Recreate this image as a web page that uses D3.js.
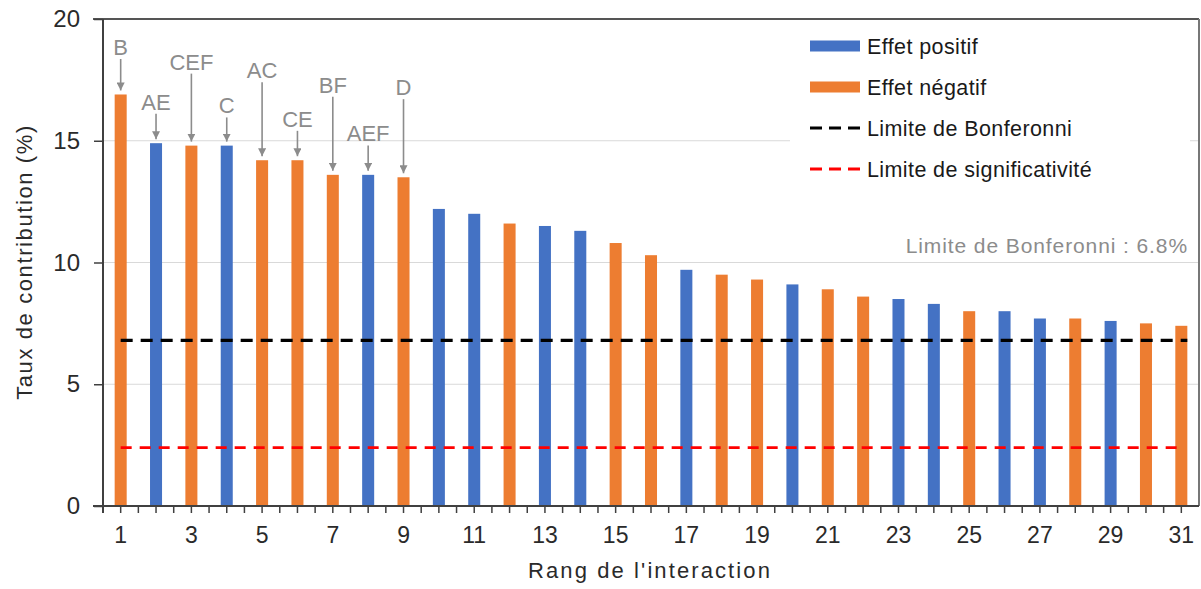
<!DOCTYPE html>
<html><head><meta charset="utf-8">
<script src="https://cdn.jsdelivr.net/npm/d3@7/dist/d3.min.js"></script>
<style>
body{margin:0;background:#fff;}
text{font-family:"Liberation Sans",Arial,sans-serif;}
</style></head>
<body>
<svg id="chart" width="1201" height="589"></svg>
<script>
// ---- data ----
const ranks = d3.range(1, 32);
const values = [16.9,14.9,14.8,14.8,14.2,14.2,13.6,13.6,13.5,12.2,12.0,11.6,11.5,11.3,10.8,10.3,9.7,9.5,9.3,9.1,8.9,8.6,8.5,8.3,8.0,8.0,7.7,7.7,7.6,7.5,7.4];
const effects = ["N","P","N","P","N","N","N","P","N","P","P","N","P","P","N","N","P","N","N","P","N","N","P","P","N","P","P","N","P","N","N"];
const annotLabels = ["B","AE","CEF","C","AC","CE","BF","AEF","D"];
const annotLabelValues = [18.85,16.6,18.25,16.45,17.9,15.9,17.3,15.3,17.2];
const bonferroni = 6.8;
const significance = 2.4;
const yTicks = [0,5,10,15,20];
const legendItems = [
  {label:"Effet positif", type:"bar", color:"#4472C4"},
  {label:"Effet négatif", type:"bar", color:"#ED7D31"},
  {label:"Limite de Bonferonni", type:"dash", color:"#000000"},
  {label:"Limite de significativité", type:"dash", color:"#FF0000"}
];
const colors = {P:"#4472C4", N:"#ED7D31"};

// ---- layout ----
const L = 103, R = 1199, T = 19, B = 506;
const svg = d3.select("#chart");
const x = d3.scaleBand().domain(ranks).range([L, R]).padding(0);
const y = d3.scaleLinear().domain([0, 20]).range([B, T]);
const bw = x.bandwidth() * 0.34;
const cx = d => x(d) + x.bandwidth() / 2;

// gridlines
svg.append("g").selectAll("line").data([5,10,15]).join("line")
  .attr("x1", L).attr("x2", R).attr("y1", d => y(d)).attr("y2", d => y(d))
  .attr("stroke", "#d9d9d9").attr("stroke-width", 1);

// bars
svg.append("g").selectAll("rect").data(ranks).join("rect")
  .attr("x", (d) => cx(d) - bw / 2)
  .attr("width", bw)
  .attr("y", (d, i) => y(values[i]))
  .attr("height", (d, i) => y(0) - y(values[i]))
  .attr("fill", (d, i) => colors[effects[i]]);

// reference lines
svg.append("line").attr("x1", cx(1)).attr("x2", cx(31) + 6)
  .attr("y1", y(bonferroni)).attr("y2", y(bonferroni))
  .attr("stroke", "#000").attr("stroke-width", 3.2).attr("stroke-dasharray", "12,8");
svg.append("line").attr("x1", cx(1)).attr("x2", cx(31))
  .attr("y1", y(significance)).attr("y2", y(significance))
  .attr("stroke", "#FF0000").attr("stroke-width", 2.8).attr("stroke-dasharray", "11,8");

// Bonferroni text
svg.append("text").attr("x", 1188).attr("y", y(10) - 10)
  .attr("text-anchor", "end").attr("font-size", 21).attr("letter-spacing", 0.9)
  .attr("fill", "#8c8c8c").text("Limite de Bonferonni : " + bonferroni + "%");

// legend background + items
svg.append("rect").attr("x", 790).attr("y", 22).attr("width", 400).attr("height", 172).attr("fill", "#fff");
const lg = svg.append("g").selectAll("g").data(legendItems).join("g")
  .attr("transform", (d, i) => `translate(810, ${46 + i * 41})`);
lg.filter(d => d.type === "bar").append("rect")
  .attr("x", 0).attr("y", -5.5).attr("width", 50).attr("height", 11).attr("fill", d => d.color);
lg.filter(d => d.type === "dash").append("line")
  .attr("x1", 0).attr("x2", 50).attr("y1", 0).attr("y2", 0)
  .attr("stroke", d => d.color).attr("stroke-width", 3).attr("stroke-dasharray", "12,7");
lg.append("text").attr("x", 57).attr("y", 8).attr("font-size", 21.5).attr("letter-spacing", 0.4)
  .attr("fill", "#1a1a1a").text(d => d.label);

// annotations
const arrowG = svg.append("g");
svg.append("defs").append("marker").attr("id", "ah")
  .attr("viewBox", "0 0 10 10").attr("refX", 10).attr("refY", 5)
  .attr("markerWidth", 8).attr("markerHeight", 8).attr("markerUnits", "userSpaceOnUse")
  .attr("orient", "auto")
  .append("path").attr("d", "M0,0 L10,5 L0,10 Z").attr("fill", "#8c8c8c");
annotLabels.forEach((lab, i) => {
  const r = ranks[i];
  const ty = y(annotLabelValues[i]);
  arrowG.append("text").attr("x", cx(r)).attr("y", ty + 8)
    .attr("text-anchor", "middle").attr("font-size", 22)
    .attr("fill", "#8c8c8c").text(lab);
  arrowG.append("line").attr("x1", cx(r)).attr("x2", cx(r))
    .attr("y1", ty + 12).attr("y2", y(values[i]) - 4)
    .attr("stroke", "#8c8c8c").attr("stroke-width", 1.6).attr("marker-end", "url(#ah)");
});

// frame (top & right)
svg.append("line").attr("x1", 93).attr("x2", R).attr("y1", T).attr("y2", T)
  .attr("stroke", "#555").attr("stroke-width", 2);
svg.append("line").attr("x1", R).attr("x2", R).attr("y1", T).attr("y2", B)
  .attr("stroke", "#777").attr("stroke-width", 2);

// y axis
const yAx = svg.append("g").attr("transform", `translate(${L},0)`)
  .call(d3.axisLeft(y).tickValues(yTicks).tickSize(9).tickPadding(14));
yAx.select(".domain").attr("stroke", "#404040").attr("stroke-width", 2)
  .attr("d", `M0,${T}V${B + 7}`);
yAx.selectAll(".tick line").attr("stroke", "#404040").attr("stroke-width", 1.5);
yAx.selectAll(".tick text").attr("font-size", 24).attr("fill", "#2a2a2a")
  .attr("font-family", "Liberation Sans, Arial, sans-serif");

// x axis
const xAx = svg.append("g").attr("transform", `translate(0,${B})`)
  .call(d3.axisBottom(x).tickSize(7).tickPadding(14).tickFormat(d => d % 2 === 1 ? d : ""));
xAx.select(".domain").attr("stroke", "#404040").attr("stroke-width", 2)
  .attr("d", `M${L - 10},0H${R}`);
xAx.selectAll(".tick line").attr("stroke", "#404040").attr("stroke-width", 1.5);
xAx.selectAll(".tick text").attr("font-size", 23).attr("fill", "#2a2a2a")
  .attr("font-family", "Liberation Sans, Arial, sans-serif");
// boundary ticks between categories
xAx.append("g").selectAll("line").data(ranks.slice(1)).join("line")
  .attr("x1", d => x(d)).attr("x2", d => x(d)).attr("y1", 0).attr("y2", 7)
  .attr("stroke", "#404040").attr("stroke-width", 1.5);

// axis titles
svg.append("text").attr("x", 650).attr("y", 578).attr("text-anchor", "middle")
  .attr("font-size", 22).attr("letter-spacing", 2.1).attr("fill", "#2a2a2a")
  .text("Rang de l'interaction");
svg.append("text").attr("transform", "translate(32,262) rotate(-90)").attr("text-anchor", "middle")
  .attr("font-size", 22).attr("letter-spacing", 1.6).attr("fill", "#2a2a2a")
  .text("Taux de contribution (%)");
</script>
</body></html>
